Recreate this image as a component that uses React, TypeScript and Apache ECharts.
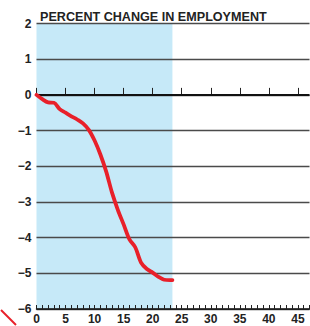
import React, { useEffect, useRef } from "react";
import * as echarts from "echarts";

const titleText = "PERCENT CHANGE IN EMPLOYMENT";
const monthsX = [0, 1, 2, 3, 4, 5, 6, 7, 8, 9, 10, 11, 12, 13, 14, 15, 16, 17, 18, 19, 20, 21, 22, 23, 23.4];
const changeY = [0, -0.12, -0.21, -0.22, -0.4, -0.5, -0.6, -0.69, -0.8, -0.98, -1.28, -1.67, -2.15, -2.74, -3.22, -3.63, -4.05, -4.27, -4.7, -4.88, -4.98, -5.1, -5.18, -5.19, -5.19];
const shadeRange = [0, 23.4];
const yMin = -6;
const yMax = 2;
const xMin = 0;
const xMax = 47;

export default function App() {
  const ref = useRef<HTMLDivElement>(null);
  useEffect(() => {
    if (!ref.current) return;
    const chart = echarts.init(ref.current, null, { renderer: "svg" });
    const font = "'Liberation Sans', Arial, sans-serif";
    chart.setOption({
      animation: false,
      title: {
        text: titleText,
        left: 35,
        top: 5,
        textStyle: { fontFamily: font, fontWeight: "bold", fontSize: 12.6, color: "#222" },
      },
      grid: { left: 36.5, right: 0.5, top: 23.5, bottom: 17 },
      xAxis: [
        {
          type: "value",
          min: xMin,
          max: xMax,
          interval: 1,
          axisLine: { show: true, onZero: false, lineStyle: { color: "#111", width: 1.5 } },
          axisTick: { show: true, inside: true, length: 4, lineStyle: { color: "#222", width: 1 } },
          axisLabel: { show: false },
          splitLine: { show: false },
          z: 2,
        },
        {
          type: "value",
          min: xMin,
          max: xMax,
          interval: 5,
          position: "bottom",
          axisLine: { show: false },
          axisTick: { show: true, inside: true, length: 7, lineStyle: { color: "#222", width: 1 } },
          axisLabel: {
            margin: 4,
            fontFamily: font,
            fontWeight: "bold",
            fontSize: 12,
            color: "#222",
          },
          splitLine: { show: false },
          z: 2,
        },
      ],
      yAxis: {
        type: "value",
        min: yMin,
        max: yMax,
        interval: 1,
        axisLine: { show: false },
        axisTick: { show: false },
        axisLabel: {
          margin: 5,
          fontFamily: font,
          fontWeight: "bold",
          fontSize: 12,
          color: "#222",
          formatter: (v: number) => (v < 0 ? "\u2212" + Math.abs(v) : String(v)),
        },
        splitLine: { show: true, lineStyle: { color: "#4a4a4a", width: 1.3 } },
        z: 2,
      },
      graphic: [
        {
          type: "line",
          shape: { x1: 1, y1: 310, x2: 16, y2: 325 },
          style: { stroke: "#e8202a", lineWidth: 2 },
        },
      ],
      series: [
        {
          type: "line",
          z: 0,
          data: [],
          silent: true,
          markArea: {
            silent: true,
            z: 0,
            itemStyle: { color: "#c6e9f8" },
            data: [[{ xAxis: shadeRange[0] }, { xAxis: shadeRange[1] }]],
          },
        },
        {
          type: "line",
          z: 4,
          data: monthsX.map((x, i) => [x, changeY[i]]),
          showSymbol: false,
          smooth: 0.3,
          lineStyle: { color: "#e8202a", width: 3.8, cap: "round", join: "round" },
          markLine: {
            silent: true,
            symbol: "none",
            label: { show: false },
            lineStyle: { color: "#111", width: 2, type: "solid" },
            data: [{ yAxis: 0 }],
            z: 3,
          },
        },
      ],
    });
    return () => chart.dispose();
  }, []);
  return <div ref={ref} style={{ width: 310, height: 326, position: "absolute", left: 0, top: 0 }} />;
}
